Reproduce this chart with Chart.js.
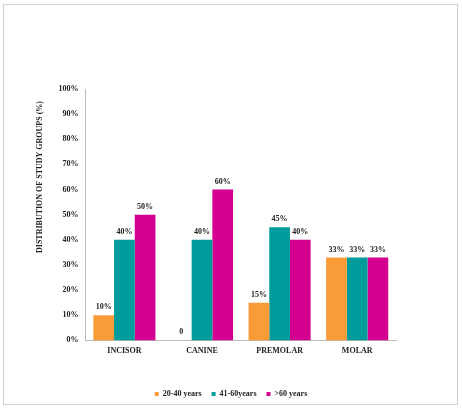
<!DOCTYPE html>
<html><head><meta charset="utf-8">
<script src="https://cdn.jsdelivr.net/npm/chart.js@4/dist/chart.umd.min.js"></script>
<style>
html,body{margin:0;padding:0;background:#fff;}
#frame{position:absolute;left:3px;top:4px;width:455px;height:401px;border:1px solid #d0d0d0;box-sizing:border-box;}
#wrap{position:absolute;left:0;top:0;width:462px;height:412px;}
</style></head>
<body>
<div id="frame"></div>
<div id="wrap"><canvas id="c" width="462" height="412"></canvas></div>
<script>
const categories = ['INCISOR','CANINE','PREMOLAR','MOLAR'];
const seriesNames = ['20-40 years','41-60years','>60 years'];
const age20to40 = [10, 0, 15, 33];
const age41to60 = [40, 40, 45, 33];
const ageOver60 = [50, 60, 40, 33];
const yTicks = [0,10,20,30,40,50,60,70,80,90,100];
const yTitle = 'DISTRIBUTION OF STUDY GROUPS (%)';
const colors = ['#F99B37','#009B9B','#D4008F'];

const FONT = "'Liberation Serif','Times New Roman',serif";

const labelPlugin = {
  id: 'barLabels',
  beforeDraw(chart){
    const l = chart.legend;
    if (l) { l.left = 0; l.right = chart.width; l.width = chart.width; }
  },
  afterDatasetsDraw(chart){
    const ctx = chart.ctx;
    ctx.save();
    ctx.font = 'bold 8px ' + FONT;
    ctx.fillStyle = '#222';
    ctx.textAlign = 'center';
    ctx.textBaseline = 'bottom';
    chart.data.datasets.forEach((ds, i) => {
      const meta = chart.getDatasetMeta(i);
      meta.data.forEach((bar, j) => {
        const v = ds.data[j];
        const t = v === 0 ? '0' : v + '%';
        ctx.fillText(t, bar.x, bar.y - 4);
      });
    });
    // axis title, placed slightly above centre as in the original
    ctx.translate(40, 177);
    ctx.rotate(-Math.PI / 2);
    ctx.textBaseline = 'middle';
    ctx.fillText(yTitle, 0, 0);
    ctx.restore();
  }
};

new Chart(document.getElementById('c'), {
  type: 'bar',
  data: {
    labels: categories,
    datasets: [
      {label: seriesNames[0], data: age20to40, backgroundColor: colors[0]},
      {label: seriesNames[1], data: age41to60, backgroundColor: colors[1]},
      {label: seriesNames[2], data: ageOver60, backgroundColor: colors[2]}
    ]
  },
  options: {
    responsive: false,
    animation: false,
    devicePixelRatio: 1,
    layout: {padding: {left: 22, right: 66, top: 89, bottom: 4}},
    datasets: {bar: {categoryPercentage: 0.8, barPercentage: 1.0}},
    plugins: {
      legend: {
        position: 'bottom',
        labels: {boxWidth: 4, boxHeight: 4, font: {family: FONT, size: 8, weight: 'bold'}, color: '#222', padding: 10}
      },
      tooltip: {enabled: false}
    },
    scales: {
      x: {
        grid: {display: false, drawTicks: false},
        border: {color: '#bdbdbd'},
        ticks: {font: {family: FONT, size: 8, weight: 'bold'}, color: '#222', padding: 6},
        afterFit(scale){ scale.height += 18; }
      },
      y: {
        min: 0, max: 100,
        afterBuildTicks(scale){ scale.ticks = yTicks.map(v => ({value: v})); },
        grid: {display: false, drawTicks: false},
        border: {color: '#bdbdbd'},
        ticks: {font: {family: FONT, size: 8, weight: 'bold'}, color: '#222', padding: 7, callback: v => v + '%'},
        title: {display: true, text: yTitle, font: {family: FONT, size: 8, weight: 'bold'}, color: 'rgba(0,0,0,0)', padding: 10}
      }
    }
  },
  plugins: [labelPlugin]
});
</script>
</body></html>
